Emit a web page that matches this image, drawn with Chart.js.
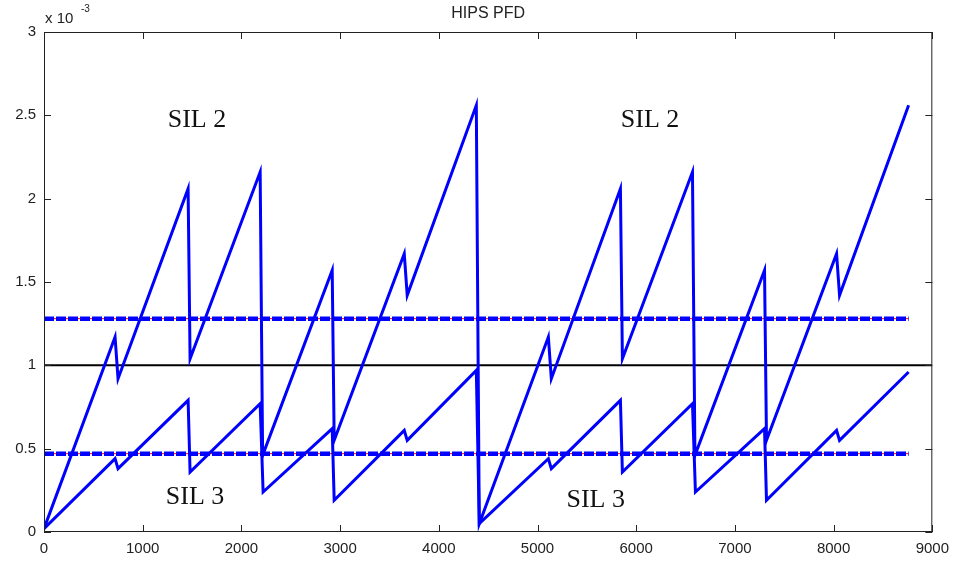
<!DOCTYPE html>
<html lang="en">
  <head>
    <meta charset="UTF-8" />
    <title>HIPS PFD</title>
    <script src="https://cdn.jsdelivr.net/npm/chart.js"></script>
    <style>
      html, body { margin: 0; padding: 0; background: #fff; }
      #wrap { width: 957px; height: 562px; }
    </style>
  </head>
  <body>
    <div id="wrap"><canvas id="myChart" width="957" height="562"></canvas></div>
    <script>
      // values in units of 1e-3 (the axis shows "x 10^-3")
      const upperX = [0, 720, 750, 1460, 1480, 2190, 2215, 2920, 2940, 3650, 3680, 4380, 4410,
                      5110, 5140, 5840, 5860, 6570, 6595, 7300, 7320, 8030, 8060, 8760];
      const upperY = [0.02, 1.17, 0.92, 2.06, 1.04, 2.16, 0.46, 1.57, 0.55, 1.67, 1.42, 2.56, 0.05,
                      1.17, 0.92, 2.06, 1.04, 2.16, 0.46, 1.57, 0.55, 1.67, 1.42, 2.56];
      const lowerX = [0, 720, 750, 1460, 1480, 2190, 2220, 2920, 2940, 3650, 3680, 4380, 4410,
                      5110, 5140, 5840, 5860, 6570, 6600, 7300, 7320, 8030, 8060, 8760];
      const lowerY = [0.02, 0.44, 0.38, 0.79, 0.36, 0.77, 0.24, 0.62, 0.19, 0.61, 0.55, 0.97, 0.05,
                      0.44, 0.38, 0.79, 0.36, 0.77, 0.24, 0.62, 0.19, 0.61, 0.55, 0.96];
      const limitX = [0, 8760];
      const sil2Limit = 1.28;
      const sil3Limit = 0.47;
      const targetX = [0, 9000];
      const targetY = 1.0;
      const xTicks = [0, 1000, 2000, 3000, 4000, 5000, 6000, 7000, 8000, 9000];
      const yTicks = [0, 0.5, 1, 1.5, 2, 2.5, 3];
      const labels = [
        { text: "SIL 2", x: 1550, y: 2.47 },
        { text: "SIL 2", x: 6140, y: 2.47 },
        { text: "SIL 3", x: 1530, y: 0.21 },
        { text: "SIL 3", x: 5590, y: 0.19 },
      ];

      const pts = (xs, ys) => xs.map((x, i) => ({ x: x, y: ys[i] }));
      const flat = (xs, v) => xs.map((x) => ({ x: x, y: v }));

      // order: lower numbers are drawn on top
      const line = (data, color, width, order, dash) => ({
        data: data,
        showLine: true,
        borderColor: color,
        backgroundColor: color,
        borderWidth: width,
        borderDash: dash || [],
        pointRadius: 0,
        tension: 0,
        order: order,
      });

      // box + inward ticks on all four sides, plus text labels
      const frame = {
        id: "frame",
        afterDatasetsDraw(chart) {
          const { ctx, chartArea: a, scales } = chart;
          ctx.save();
          ctx.strokeStyle = "#222";
          ctx.lineWidth = 1;
          ctx.strokeRect(a.left + 0.5, a.top + 0.5, a.right - a.left - 1, a.bottom - a.top - 1);
          ctx.beginPath();
          xTicks.forEach((v) => {
            const px = Math.round(scales.x.getPixelForValue(v)) + 0.5;
            ctx.moveTo(px, a.bottom); ctx.lineTo(px, a.bottom - 7);
            ctx.moveTo(px, a.top); ctx.lineTo(px, a.top + 7);
          });
          yTicks.forEach((v) => {
            const py = Math.round(scales.y.getPixelForValue(v)) + 0.5;
            ctx.moveTo(a.left, py); ctx.lineTo(a.left + 7, py);
            ctx.moveTo(a.right, py); ctx.lineTo(a.right - 7, py);
          });
          ctx.stroke();

          ctx.fillStyle = "#111";
          ctx.font = "26px 'Liberation Serif', 'Times New Roman', serif";
          ctx.textAlign = "center";
          ctx.textBaseline = "middle";
          labels.forEach((l) => {
            ctx.fillText(l.text, scales.x.getPixelForValue(l.x), scales.y.getPixelForValue(l.y));
          });

          ctx.textAlign = "left";
          ctx.textBaseline = "alphabetic";
          ctx.fillStyle = "#222";
          ctx.font = "15px 'Liberation Sans', Arial, sans-serif";
          ctx.fillText("x 10", a.left + 1, 23);
          ctx.font = "10px 'Liberation Sans', Arial, sans-serif";
          ctx.fillText("-3", a.left + 37, 12);
          ctx.restore();
        },
      };

      const tickFont = { family: "'Liberation Sans', Arial, sans-serif", size: 15 };

      new Chart(document.getElementById("myChart"), {
        type: "scatter",
        data: {
          datasets: [
            line(pts(upperX, upperY), "#0000ff", 3, 1),
            line(pts(lowerX, lowerY), "#0000ff", 3, 1),
            line(flat(targetX, targetY), "#000000", 2, 3),
            line(flat(limitX, sil2Limit), "#ff0000", 1, 2),
            line(flat(limitX, sil3Limit), "#ff0000", 1, 2),
            line(flat(limitX, sil2Limit), "#0000ff", 4.5, 0, [10, 2]),
            line(flat(limitX, sil3Limit), "#0000ff", 4.5, 0, [10, 2]),
          ],
        },
        options: {
          responsive: false,
          animation: false,
          layout: { padding: { left: 0, right: 24, top: 0, bottom: 0 } },
          plugins: {
            legend: { display: false },
            tooltip: { enabled: false },
            title: {
              display: true,
              text: "HIPS PFD",
              fullSize: false,
              color: "#222",
              font: { family: "'Liberation Sans', Arial, sans-serif", size: 16, weight: "normal" },
              padding: { top: 4, bottom: 8.8 },
            },
          },
          scales: {
            x: {
              type: "linear",
              min: 0,
              max: 9000,
              afterFit(s) { s.height = 30; },
              afterBuildTicks(s) { s.ticks = xTicks.map((v) => ({ value: v })); },
              grid: { display: false, drawTicks: false },
              border: { display: false },
              ticks: {
                color: "#222", font: tickFont, padding: 8, maxRotation: 0, autoSkip: false,
                callback: (v) => String(v),
              },
            },
            y: {
              type: "linear",
              min: 0,
              max: 3,
              afterFit(s) { s.width = 44; },
              afterBuildTicks(s) { s.ticks = yTicks.map((v) => ({ value: v })); },
              grid: { display: false, drawTicks: false },
              border: { display: false },
              ticks: {
                color: "#222", font: tickFont, padding: 8, autoSkip: false,
                callback: (v) => String(v),
              },
            },
          },
        },
        plugins: [frame],
      });
    </script>
  </body>
</html>
